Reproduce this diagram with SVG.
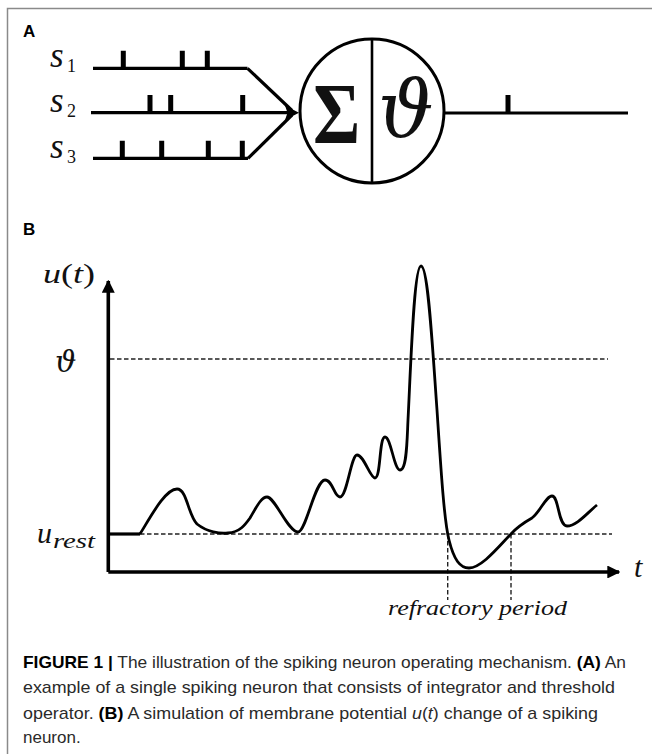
<svg xmlns="http://www.w3.org/2000/svg" width="652" height="754" viewBox="0 0 652 754">
<defs>
<style>
.frame{stroke:#8a8a8a;stroke-width:1.5;fill:none}
.wire{stroke:#000;stroke-width:3.2;fill:none}
.spk{stroke:#000;stroke-width:5;fill:none}
.axis{stroke:#000;stroke-width:3.6;fill:none}
.dash{stroke:#222;stroke-width:1.4;stroke-dasharray:4.5 2.5;fill:none}
.curve{stroke:#000;stroke-width:2.8;fill:none;stroke-linejoin:round}
.panel{font-family:"Liberation Sans",Arial,sans-serif;font-weight:bold;font-size:17px;fill:#000}
.math{font-family:"Liberation Serif","DejaVu Serif",serif;font-style:italic;fill:#111}
.up{font-family:"Liberation Serif","DejaVu Serif",serif;font-style:normal;fill:#111}
.cap{font-family:"Liberation Sans",Arial,sans-serif;font-size:17px;fill:#2a2a2a}
.b{font-weight:bold;fill:#000}
</style>
<marker id="ah" viewBox="0 0 10 10" refX="9" refY="5" markerWidth="3.6" markerHeight="3.6" orient="auto" markerUnits="strokeWidth">
<path d="M0,0 L10,5 L0,10 z" fill="#000"/>
</marker>
</defs>
<rect width="652" height="754" fill="#fff"/>
<path class="frame" d="M7.5,754 V8.5 H652"/>

<g id="panelA">
<text class="panel" x="23" y="37">A</text>
<g id="s1">
<text class="math" x="50" y="67" font-size="35">s</text>
<text class="up" x="67" y="72" font-size="18">1</text>
<path class="wire" d="M93,68.3 H247.5"/>
<path class="spk" d="M123.3,68.3 V50.7 M182.3,68.3 V50.7 M207.3,68.3 V50.7"/>
</g>
<g id="s2">
<text class="math" x="50" y="112" font-size="35">s</text>
<text class="up" x="67" y="117" font-size="18">2</text>
<path class="wire" d="M91,112.7 H288"/>
<path class="spk" d="M150,112.7 V95 M170.7,112.7 V95 M242.7,112.7 V95"/>
</g>
<g id="s3">
<text class="math" x="50" y="158" font-size="35">s</text>
<text class="up" x="67" y="163" font-size="18">3</text>
<path class="wire" d="M93,158.3 H248"/>
<path class="spk" d="M122.3,158.3 V140.7 M161.7,158.3 V140.7 M208.3,158.3 V140.7 M242.3,158.3 V140.7"/>
</g>
<g id="neuron">
<circle cx="372" cy="111" r="72" fill="none" stroke="#000" stroke-width="3"/>
<path d="M372,39 V183" stroke="#000" stroke-width="2.6"/>
<text class="up" x="336.5" y="143" font-size="86" font-weight="bold" text-anchor="middle" transform="translate(336.5 0) scale(0.84 1) translate(-336.5 0)">Σ</text>
<text x="378" y="137" font-size="78" font-family="DejaVu Serif,serif" font-style="italic" fill="#111">ϑ</text>
</g>
<g id="output">
<path class="wire" d="M444,113 H628"/>
<path class="spk" d="M508,113 V95"/>
</g>
<g id="connectors">
<path class="wire" d="M247.5,68.3 L292,110.5"/>
<path class="wire" d="M248,158.3 L292,115"/>
<path d="M299,112.7 L285,105.5 L287.5,112.7 L285,120 Z" fill="#000"/>
</g>
</g>

<g id="panelB">
<text class="panel" x="23" y="235">B</text>
<text x="43" y="283" font-size="28" textLength="52" lengthAdjust="spacingAndGlyphs"><tspan class="math">u</tspan><tspan class="up">(</tspan><tspan class="math">t</tspan><tspan class="up">)</tspan></text>
<text x="55" y="372" font-size="30" font-family="DejaVu Serif,serif" font-style="italic" fill="#111">ϑ</text>
<text class="math" x="37" y="543" font-size="30">u</text>
<text class="math" x="53" y="548" font-size="22" textLength="42" lengthAdjust="spacingAndGlyphs">rest</text>
<text class="math" x="634" y="577" font-size="30">t</text>
<text class="math" x="388" y="615" font-size="21" textLength="179" lengthAdjust="spacingAndGlyphs">refractory period</text>

<path class="dash" d="M110,359 H608"/>
<path class="dash" d="M140,534 H612"/>
<path class="dash" d="M447.7,534 V600 M511,534 V600"/>
<path class="wire" d="M108,534 H140" stroke-width="2.6"/>
<path class="axis" d="M108.3,572 V281" marker-end="url(#ah)"/>
<path class="axis" d="M108.3,572 H619" marker-end="url(#ah)"/>

<path class="curve" d="M140,534 C150,518 165,489 177,489 C187,489 188,515 197,524 C207,532 220,534 228,533 C240,532 245,525 250,518 C256,508 261,497 267,497 C275,497 288,532 298,532 C306,532 315,480 325,480 C333,480 334,497 340,497 C347,497 351,455 357,455 C364,455 370,478 375,478 C381,478 379,437 385,437 C391,437 394,470 400,470 C407,470 407,440 408,420 C411,360 414,266 421,266 C428,266 432,340 437,410 C441,470 444,520 449,540 C454,560 460,568 469,568 C482,568 500,545 511,534 C518,526 525,522 532,518 C540,512 546,496 552,496 C559,496 558,526 567,526 C577,526 588,512 597,505"/>
</g>

<g id="caption" class="cap">
<text x="23" y="668" textLength="603" lengthAdjust="spacingAndGlyphs"><tspan class="b">FIGURE 1 |</tspan> The illustration of the spiking neuron operating mechanism. <tspan class="b">(A)</tspan> An</text>
<text x="23" y="693" textLength="592" lengthAdjust="spacingAndGlyphs">example of a single spiking neuron that consists of integrator and threshold</text>
<text x="23" y="719" textLength="575" lengthAdjust="spacingAndGlyphs">operator. <tspan class="b">(B)</tspan> A simulation of membrane potential <tspan font-style="italic">u</tspan>(<tspan font-style="italic">t</tspan>) change of a spiking</text>
<text x="23" y="743">neuron.</text>
</g>
</svg>
